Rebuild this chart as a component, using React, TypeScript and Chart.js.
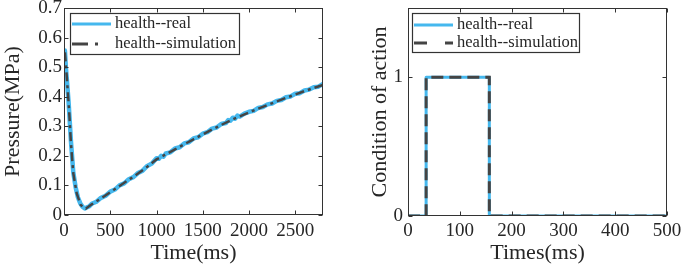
import React, { useEffect, useRef } from 'react';
import { Chart, registerables } from 'chart.js';
Chart.register(...registerables);

const FONT = '"Liberation Serif", "Times New Roman", serif';
const TEXT = '#262626';
const BLUE = '#45B8EE';
const GRAY = '#444444';

// ---- Left chart: pressure ----
const pressureTimeReal = [0, 10, 20, 30, 50, 75, 100, 125, 150, 175, 200, 225, 250, 275, 300, 350, 400, 450, 500, 550, 600, 650, 700, 750, 800, 850, 900, 950, 1000, 1025, 1050, 1075, 1100, 1150, 1200, 1250, 1300, 1350, 1400, 1450, 1500, 1550, 1600, 1650, 1700, 1750, 1775, 1800, 1825, 1850, 1875, 1900, 1950, 2000, 2050, 2100, 2150, 2200, 2250, 2300, 2350, 2400, 2450, 2500, 2550, 2600, 2650, 2700, 2750, 2800];
const pressureReal = [0.55, 0.556, 0.5, 0.462, 0.38, 0.25, 0.145, 0.095, 0.06, 0.04, 0.028, 0.022, 0.026, 0.03, 0.038, 0.045, 0.058, 0.065, 0.079, 0.086, 0.1, 0.107, 0.121, 0.128, 0.142, 0.15, 0.166, 0.174, 0.192, 0.19, 0.2, 0.197, 0.208, 0.212, 0.225, 0.229, 0.242, 0.246, 0.259, 0.263, 0.275, 0.28, 0.292, 0.296, 0.308, 0.311, 0.321, 0.319, 0.329, 0.326, 0.336, 0.333, 0.343, 0.349, 0.352, 0.362, 0.365, 0.374, 0.377, 0.386, 0.389, 0.398, 0.401, 0.41, 0.412, 0.421, 0.424, 0.432, 0.434, 0.443];
const pressureTimeSim = [10, 30, 55, 75, 100, 137, 180, 237, 300, 400, 500, 600, 700, 800, 900, 1000, 1200, 1400, 1600, 1800, 2000, 2200, 2400, 2600, 2800];
const pressureSim = [0.55, 0.468, 0.355, 0.243, 0.142, 0.074, 0.034, 0.022, 0.036, 0.056, 0.077, 0.098, 0.119, 0.14, 0.163, 0.188, 0.222, 0.256, 0.289, 0.32, 0.347, 0.372, 0.396, 0.419, 0.44];
const pressureXTicks = [0, 500, 1000, 1500, 2000, 2500];
const pressureYTicks = [0, 0.1, 0.2, 0.3, 0.4, 0.5, 0.6, 0.7];

// ---- Right chart: condition of action ----
const actionTimeReal = [0, 35, 35, 157, 157, 500];
const actionReal = [0, 0, 1, 1, 0, 0];
const actionTimeSim = [0, 35, 35, 157, 157, 500];
const actionSim = [0, 0, 1, 1, 0, 0];
const actionXTicks = [0, 100, 200, 300, 400, 500];
const actionYTicks = [0, 1];

const legendLabels = ['health--real', 'health--simulation'];

const boxPlugin = {
  id: 'boxTicks',
  afterDatasetsDraw(chart: any) {
    const { ctx, chartArea: a, scales } = chart;
    const L = Math.round(a.left) + 0.5;
    const R = Math.round(a.right) - 0.5;
    const T = Math.round(a.top) + 0.5;
    const B = Math.round(a.bottom) - 0.5;
    ctx.save();
    ctx.strokeStyle = '#333';
    ctx.lineWidth = 1;
    ctx.setLineDash([]);
    ctx.strokeRect(L, T, R - L, B - T);
    const tl = 4;
    ctx.beginPath();
    scales.x.ticks.forEach((t: any) => {
      const px = Math.round(scales.x.getPixelForValue(t.value)) + 0.5;
      ctx.moveTo(px, B); ctx.lineTo(px, B - tl);
      ctx.moveTo(px, T); ctx.lineTo(px, T + tl);
    });
    scales.y.ticks.forEach((t: any) => {
      const py = Math.round(scales.y.getPixelForValue(t.value)) + 0.5;
      ctx.moveTo(L, py); ctx.lineTo(L + tl, py);
      ctx.moveTo(R, py); ctx.lineTo(R - tl, py);
    });
    ctx.stroke();
    ctx.restore();
  },
};

const legendPlugin = {
  id: 'insideLegend',
  afterDraw(chart: any, _args: any, opts: any) {
    const { ctx } = chart;
    const { x0, y0, x1, y1, rows, simDash } = opts;
    ctx.save();
    ctx.fillStyle = '#fff';
    ctx.fillRect(x0, y0, x1 - x0, y1 - y0);
    ctx.strokeStyle = '#333';
    ctx.lineWidth = 1.2;
    ctx.setLineDash([]);
    ctx.strokeRect(x0 + 0.5, y0 + 0.5, x1 - x0 - 1, y1 - y0 - 1);
    const sx0 = x0 + 2, sx1 = x0 + 41;
    ctx.strokeStyle = BLUE;
    ctx.lineWidth = 3;
    ctx.beginPath(); ctx.moveTo(sx0, rows[0]); ctx.lineTo(sx1, rows[0]); ctx.stroke();
    ctx.strokeStyle = GRAY;
    ctx.setLineDash(simDash);
    ctx.beginPath(); ctx.moveTo(sx0, rows[1]); ctx.lineTo(sx1, rows[1]); ctx.stroke();
    ctx.setLineDash([]);
    ctx.fillStyle = TEXT;
    ctx.font = `16.5px ${FONT}`;
    ctx.textBaseline = 'middle';
    ctx.textAlign = 'left';
    ctx.fillText(legendLabels[0], x0 + 45, rows[0]);
    ctx.fillText(legendLabels[1], x0 + 45, rows[1]);
    ctx.restore();
  },
};

function zeroPad(s: any) {
  s.paddingTop = 0; s.paddingBottom = 0; s.paddingLeft = 0; s.paddingRight = 0;
}

function makeConfig(p: any) {
  return {
    type: 'line',
    data: {
      datasets: [
        {
          label: legendLabels[0],
          data: p.tr.map((t: number, i: number) => ({ x: t, y: p.vr[i] })),
          borderColor: BLUE,
          borderWidth: p.realWidth,
          borderJoinStyle: 'round',
          pointRadius: 0,
          tension: 0,
          order: 2,
        },
        {
          label: legendLabels[1],
          data: p.ts.map((t: number, i: number) => ({ x: t, y: p.vs[i] })),
          borderColor: GRAY,
          borderWidth: p.simWidth,
          borderDash: p.simDash,
          pointRadius: 0,
          tension: 0,
          order: 1,
        },
      ],
    },
    options: {
      animation: false,
      responsive: false,
      events: [],
      layout: { padding: { left: 0, top: 8, right: p.padRight, bottom: 0 } },
      plugins: {
        legend: { display: false },
        tooltip: { enabled: false },
        insideLegend: p.legend,
      },
      scales: {
        x: {
          type: 'linear',
          min: p.xMin,
          max: p.xMax,
          grid: { display: false, drawTicks: false },
          border: { display: false },
          afterBuildTicks: (s: any) => { s.ticks = p.xTicks.map((v: number) => ({ value: v })); },
          afterFit: (s: any) => { s.height = p.xHeight; zeroPad(s); },
          ticks: { color: TEXT, font: { family: FONT, size: 19 }, padding: p.xPad, maxRotation: 0, autoSkip: false, callback: (v: number) => String(v) },
          title: { display: true, text: p.xTitle, color: TEXT, font: { family: FONT, size: 22 }, padding: { top: 0, bottom: 2 } },
        },
        y: {
          type: 'linear',
          min: p.yMin,
          max: p.yMax,
          grid: { display: false, drawTicks: false },
          border: { display: false },
          afterBuildTicks: (s: any) => { s.ticks = p.yTicks.map((v: number) => ({ value: v })); },
          afterFit: (s: any) => { s.width = p.yWidth; zeroPad(s); },
          ticks: { color: TEXT, font: { family: FONT, size: 19 }, padding: p.yPad, autoSkip: false, callback: (v: number) => String(Math.round(v * 10) / 10) },
          title: { display: true, text: p.yTitle, color: TEXT, font: { family: FONT, size: 22 }, padding: { top: p.yTitlePad, bottom: 0 } },
        },
      },
    },
    plugins: [boxPlugin, legendPlugin],
  };
}

function ChartCanvas({ cfg, width, left }: { cfg: any; width: number; left: number }) {
  const ref = useRef<HTMLCanvasElement>(null);
  useEffect(() => {
    const c = new Chart(ref.current as HTMLCanvasElement, cfg);
    return () => c.destroy();
  }, []);
  return (
    <canvas ref={ref} width={width} height={268}
      style={{ position: 'absolute', left, top: 0, width, height: 268 }} />
  );
}

export default function App() {
  const leftCfg = makeConfig({
    tr: pressureTimeReal, vr: pressureReal, ts: pressureTimeSim, vs: pressureSim,
    simDash: [9, 4, 3, 4], realWidth: 4.5, simWidth: 2.5,
    xMin: 0, xMax: 2800, yMin: 0, yMax: 0.7,
    xTicks: pressureXTicks, yTicks: pressureYTicks,
    padRight: 19, xHeight: 53, yWidth: 64, xPad: 5, yPad: 2, yTitlePad: 0,
    xTitle: 'Time(ms)', yTitle: 'Pressure(MPa)',
    legend: { x0: 70, y0: 13, x1: 240, y1: 55, rows: [24, 44], simDash: [16, 7, 3, 20] },
  });
  const rightCfg = makeConfig({
    tr: actionTimeReal, vr: actionReal, ts: actionTimeSim, vs: actionSim,
    simDash: [12, 6], realWidth: 3, simWidth: 3,
    xMin: 0, xMax: 500, yMin: 0, yMax: 1.5,
    xTicks: actionXTicks, yTicks: actionYTicks,
    padRight: 18, xHeight: 52, yWidth: 66, xPad: 4, yPad: 5, yTitlePad: 25,
    xTitle: 'Times(ms)', yTitle: 'Condition of action',
    legend: { x0: 70, y0: 13, x1: 238, y1: 53, rows: [25, 43], simDash: [13, 18, 8, 10] },
  });
  return (
    <div style={{ position: 'absolute', left: 0, top: 0, width: 685, height: 268, background: '#fff' }}>
      <ChartCanvas cfg={leftCfg} width={342} left={0} />
      <ChartCanvas cfg={rightCfg} width={343} left={342} />
    </div>
  );
}
